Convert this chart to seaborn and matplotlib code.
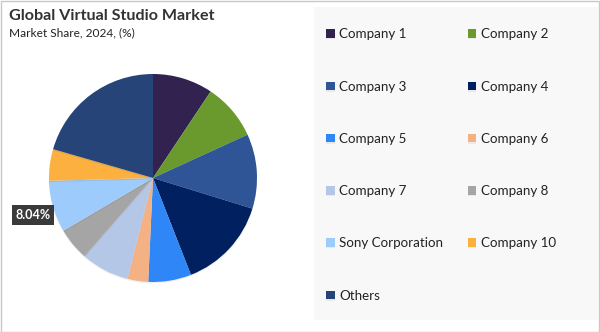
import numpy as np
import matplotlib
matplotlib.use("Agg")
import matplotlib.pyplot as plt
import seaborn as sns
from matplotlib.patches import Rectangle
import matplotlib.patheffects as pe

categories = ["Company 1", "Company 2", "Company 3", "Company 4", "Company 5",
              "Company 6", "Company 7", "Company 8", "Sony Corporation",
              "Company 10", "Others"]
shares = [9.36, 8.80, 11.60, 14.30, 6.67, 3.20, 7.50, 5.10, 8.04, 4.90, 20.53]
colors = ["#32224f", "#6a9a2e", "#2f5597", "#002060", "#2f86f6", "#f4b183",
          "#b4c7e7", "#a5a5a5", "#9dcbfb", "#fbb040", "#264478"]
title = "Global Virtual Studio Market"
subtitle = "Market Share, 2024, (%)"
highlight = "Sony Corporation"

sns.set_theme(style="white")
plt.rcParams["font.family"] = ["Lato", "DejaVu Sans"]

W, H = 600, 332
fig = plt.figure(figsize=(W / 100, H / 100), dpi=100)
fig.patch.set_facecolor("white")

# figure border
fig.add_artist(Rectangle((0.5 / W, 0.5 / H), 1 - 1.5 / W, 1 - 1.5 / H,
                         transform=fig.transFigure, fill=False,
                         edgecolor="#c8c8c8", linewidth=1.0))
# legend background panel
fig.add_artist(Rectangle((314 / W, 1 - 320 / H), (598 - 314) / W, (320 - 7) / H,
                         transform=fig.transFigure, facecolor="#f8f8f8",
                         edgecolor="none", zorder=0))

fig.text(9 / W, 1 - 9 / H, title, fontsize=11.6, fontweight="bold",
         color="#333333", va="top", ha="left")
fig.text(9 / W, 1 - 27 / H, subtitle, fontsize=8.6, color="#222222",
         va="top", ha="left")

cx, cy, r = 153, 178, 104
ax = fig.add_axes([(cx - r) / W, (H - cy - r) / H, 2 * r / W, 2 * r / H])
wedges, _ = ax.pie(shares, colors=colors, startangle=90, counterclock=False,
                   wedgeprops=dict(linewidth=0))
for w in wedges:
    w.set_path_effects([pe.SimplePatchShadow(offset=(0, -1), shadow_rgbFace="#000000",
                                             alpha=0.06), pe.Normal()])
ax.set_xlim(-1, 1)
ax.set_ylim(-1, 1)
ax.set_aspect("equal")
ax.axis("off")

# highlighted data label
i = categories.index(highlight)
wg = wedges[i]
mid = np.deg2rad((wg.theta1 + wg.theta2) / 2)
ax.text(1.2 * np.cos(mid), 1.2 * np.sin(mid) - 0.025, f"{shares[i]:.2f}%",
        ha="center", va="center", fontsize=9, fontweight="bold",
        color="white", clip_on=False,
        bbox=dict(boxstyle="square,pad=0.3", facecolor="#3a3a3a",
                  edgecolor="none"))

# legend laid out row by row (2 columns)
n = len(categories)
order = list(range(0, n, 2)) + list(range(1, n, 2))
leg = fig.legend([wedges[k] for k in order], [categories[k] for k in order],
                 ncol=2, loc="upper left",
                 bbox_to_anchor=(321 / W, 1 - 23 / H), frameon=False,
                 fontsize=9.6, handlelength=0.62, handleheight=0.62,
                 handletextpad=0.35, labelspacing=3.02, columnspacing=1.85,
                 borderaxespad=0)
for t in leg.get_texts():
    t.set_color("#222222")

fig.savefig("out.png", dpi=100, facecolor="white")
